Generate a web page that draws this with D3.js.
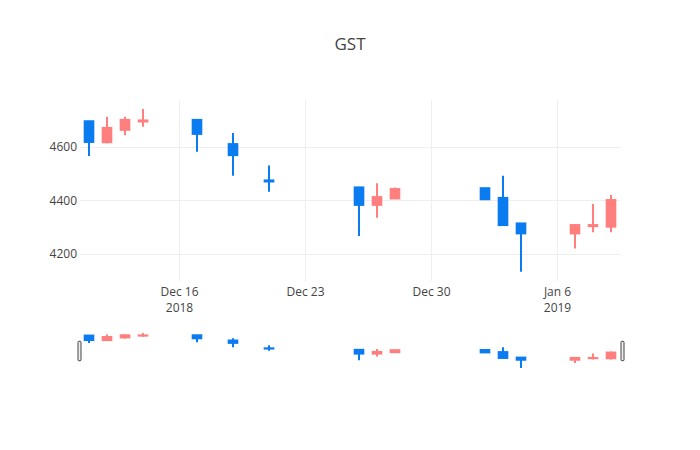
<!DOCTYPE html>
<html>
<head>
<meta charset="utf-8">
<script src="https://cdn.jsdelivr.net/npm/d3@7"></script>
<style>
  html, body { margin: 0; padding: 0; background: #fff; }
  svg { display: block; font-family: "Open Sans", verdana, arial, sans-serif; }
</style>
</head>
<body>
<svg id="chart" width="700" height="450"></svg>
<script>
// ---- data ----
const dates = ["2018-12-11","2018-12-12","2018-12-13","2018-12-14","2018-12-17","2018-12-19","2018-12-21",
               "2018-12-26","2018-12-27","2018-12-28","2019-01-02","2019-01-03","2019-01-04",
               "2019-01-07","2019-01-08","2019-01-09"];
const open  = [4694, 4616, 4662, 4693, 4699, 4609, 4474, 4448, 4383, 4407, 4445, 4409, 4314, 4277, 4304, 4302];
const high  = [4695, 4711, 4711, 4740, 4700, 4650, 4529, 4449, 4463, 4448, 4447, 4491, 4315, 4310, 4386, 4420];
const low   = [4565, 4612, 4642, 4674, 4581, 4491, 4432, 4267, 4335, 4406, 4403, 4307, 4134, 4221, 4281, 4281];
const close = [4617, 4669, 4699, 4697, 4647, 4568, 4470, 4383, 4412, 4442, 4404, 4308, 4277, 4308, 4308, 4401];
const yTicks = [4200, 4400, 4600];
const xTickDates = ["2018-12-16","2018-12-23","2018-12-30","2019-01-06"];
const xTickLines = [["Dec 16","2018"],["Dec 23"],["Dec 30"],["Jan 6","2019"]];
const title = "GST";

const upColor = "#ff7f7f";
const downColor = "#0b7bf0";

// ---- layout ----
const svg = d3.select("#chart");
const L = 80, R = 620, T = 100, B = 281;
const sT = 331, sB = 370;

const parse = d3.utcParse("%Y-%m-%d");
const dts = dates.map(parse);
const DAY = 864e5;
const x = d3.scaleUtc()
  .domain([new Date(+d3.min(dts) - DAY/2), new Date(+d3.max(dts) + DAY/2)])
  .range([L, R]);
const y = d3.scaleLinear().domain([4100, 4773]).range([B, T]);
const ys = d3.scaleLinear().domain([4100, 4773]).range([sB, sT]);

// title
svg.append("text").attr("x", 350).attr("y", 50).attr("text-anchor", "middle")
  .attr("font-size", 17).attr("fill", "#444").text(title);

// gridlines
const grid = svg.append("g");
grid.selectAll("line.h").data(yTicks).join("line")
  .attr("x1", L).attr("x2", R)
  .attr("y1", d => Math.round(y(d)) + 0.5).attr("y2", d => Math.round(y(d)) + 0.5)
  .attr("stroke", "#eee").attr("stroke-width", 1);
grid.selectAll("line.v").data(xTickDates.map(parse)).join("line")
  .attr("x1", d => Math.round(x(d)) + 0.5).attr("x2", d => Math.round(x(d)) + 0.5)
  .attr("y1", T).attr("y2", B)
  .attr("stroke", "#eee").attr("stroke-width", 1);

// y axis labels
const yAxis = d3.axisLeft(y).tickValues(yTicks).tickSize(0).tickPadding(3).tickFormat(d3.format("d"));
const gy = svg.append("g").attr("transform", `translate(${L},0)`).call(yAxis);
gy.select(".domain").remove();
gy.selectAll("text").attr("font-size", 12).attr("fill", "#444")
  .attr("font-family", '"Open Sans", verdana, arial, sans-serif');

// x axis labels
const xAxis = d3.axisBottom(x).tickValues(xTickDates.map(parse)).tickSize(0).tickFormat(() => "");
const gx = svg.append("g").attr("transform", `translate(0,${B})`).call(xAxis);
gx.select(".domain").remove();
gx.selectAll(".tick text").each(function(d, i) {
  const t = d3.select(this).attr("y", 0).attr("dy", null)
    .attr("font-size", 12).attr("fill", "#444")
    .attr("font-family", '"Open Sans", verdana, arial, sans-serif');
  xTickLines[i].forEach((line, j) => {
    t.append("tspan").attr("x", 0).attr("y", 15 + j * 15.6).text(line);
  });
});

// candles
const idx = d3.range(dates.length);
const bodyW = 0.48 * (x(parse("2018-12-12")) - x(parse("2018-12-11")));

function drawCandles(g, yy) {
  const c = g.selectAll("g.c").data(idx).join("g").attr("class", "c");
  c.append("line")
    .attr("x1", i => x(dts[i])).attr("x2", i => x(dts[i]))
    .attr("y1", i => yy(high[i])).attr("y2", i => yy(low[i]))
    .attr("stroke", i => close[i] >= open[i] ? upColor : downColor)
    .attr("stroke-width", 2);
  c.append("rect")
    .attr("x", i => x(dts[i]) - bodyW / 2)
    .attr("width", bodyW)
    .attr("y", i => yy(Math.max(open[i], close[i])))
    .attr("height", i => Math.max(0.01, yy(Math.min(open[i], close[i])) - yy(Math.max(open[i], close[i]))))
    .attr("fill", i => close[i] >= open[i] ? upColor : downColor)
    .attr("stroke", i => close[i] >= open[i] ? upColor : downColor)
    .attr("stroke-width", 2);
}
drawCandles(svg.append("g"), y);

// range slider
const slider = svg.append("g");
slider.append("rect").attr("x", L).attr("y", sT).attr("width", R - L).attr("height", sB - sT).attr("fill", "#fff");
const sc = slider.append("g");
sc.append("clipPath").attr("id", "sclip").append("rect")
  .attr("x", L).attr("y", sT).attr("width", R - L).attr("height", sB - sT);
drawCandles(sc.append("g").attr("clip-path", "url(#sclip)"), ys);
const hh = (sB - sT) / 2;
[L - 2.5, R + 0.5].forEach(hx => {
  slider.append("rect").attr("x", hx + 0.5).attr("y", sT + hh / 2 + 0.5)
    .attr("width", 3).attr("height", hh).attr("rx", 1).attr("ry", 1)
    .attr("fill", "#eee").attr("stroke", "#444").attr("stroke-width", 1);
});
</script>
</body>
</html>
